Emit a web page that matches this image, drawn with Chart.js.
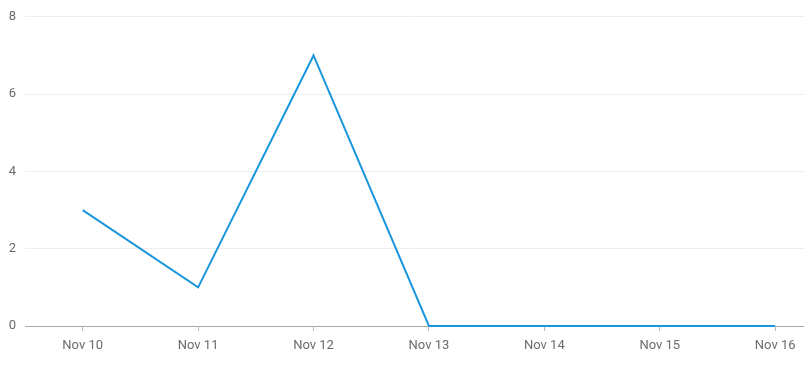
<!DOCTYPE html>
<html>
<head>
<meta charset="utf-8">
<script src="https://cdn.jsdelivr.net/npm/chart.js@4"></script>
<style>
  html, body { margin: 0; padding: 0; background: #fff; }
  #wrap { width: 804px; height: 373px; position: relative; }
</style>
</head>
<body>
<div id="wrap"><canvas id="c"></canvas></div>
<script>
// Daily counts
const categories = ['Nov 10', 'Nov 11', 'Nov 12', 'Nov 13', 'Nov 14', 'Nov 15', 'Nov 16'];
const values = [3, 1, 7, 0, 0, 0, 0];
const yTicks = [0, 2, 4, 6, 8];

const points = values.map((v, i) => ({ x: i, y: v }));
const tickFont = { family: 'Roboto, "Liberation Sans", sans-serif', size: 13 };

new Chart(document.getElementById('c'), {
  type: 'line',
  data: {
    datasets: [{
      data: points,
      borderColor: '#1a96dc',
      backgroundColor: '#1a96dc',
      borderWidth: 2,
      pointRadius: 0,
      tension: 0,
      fill: false,
      clip: false,
    }]
  },
  options: {
    responsive: true,
    maintainAspectRatio: false,
    animation: false,
    layout: { padding: { top: 16, right: 0, bottom: 0, left: 0 } },
    scales: {
      x: {
        type: 'linear',
        min: -0.5,
        max: 6.25,
        afterBuildTicks: s => { s.ticks = categories.map((_, i) => ({ value: i })); },
        afterFit: s => { s.height = 47; },
        ticks: {
          color: '#6b6b6b',
          font: tickFont,
          padding: 7,
          maxRotation: 0,
          callback: v => categories[v],
        },
        grid: { drawOnChartArea: false, drawTicks: true, tickLength: 5, color: '#bbb' },
        border: { color: '#aaa' },
      },
      y: {
        min: 0,
        max: 8,
        afterBuildTicks: s => { s.ticks = yTicks.map(v => ({ value: v })); },
        afterFit: s => { s.width = 25; },
        ticks: { color: '#6b6b6b', font: tickFont, padding: 9 },
        grid: { color: '#eeeeee', drawTicks: false },
        border: { display: false },
      },
    },
    plugins: {
      legend: { display: false },
      tooltip: { enabled: false },
    },
  },
});
</script>
</body>
</html>
